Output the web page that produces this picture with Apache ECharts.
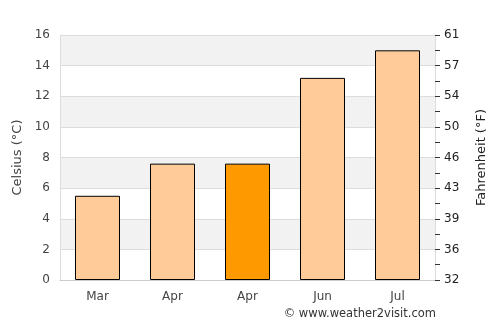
<!DOCTYPE html>
<html>
<head>
<meta charset="utf-8">
<script src="https://cdn.jsdelivr.net/npm/echarts@6/dist/echarts.min.js"></script>
<style>
  html, body { margin: 0; padding: 0; background: #fff; }
  #chart { width: 500px; height: 325px; }
</style>
</head>
<body>
<div id="chart"></div>
<script>
// 月份
var months = ['Mar', 'Apr', 'Apr', 'Jun', 'Jul'];
// 摄氏温度
var celsius = [5.5, 7.6, 7.6, 13.2, 15.0];
// 当前月（高亮）
var highlightIndex = 2;

var barColor = '#ffcc99';
var highlightColor = '#ff9900';

var myChart = echarts.init(document.getElementById('chart'));

myChart.setOption({
	animation: false,
	textStyle: { fontFamily: 'DejaVu Sans' },
	grid: {
		left: 60,
		right: 65,
		top: 35,
		bottom: 45
	},
	graphic: [
		{
			type: 'text',
			right: 64,
			bottom: 5,
			style: {
				text: '© www.weather2visit.com',
				fill: '#333',
				font: '11.5px DejaVu Sans'
			}
		}
	],
	xAxis: {
		type: 'category',
		data: months,
		axisTick: { show: false },
		axisLine: { lineStyle: { color: '#ccc' } },
		axisLabel: { color: '#444', fontSize: 12, margin: 11 }
	},
	yAxis: [
		{
			type: 'value',
			min: 0,
			max: 16,
			interval: 2,
			name: 'Celsius (°C)',
			nameLocation: 'middle',
			nameGap: 36,
			nameTextStyle: { color: '#444', fontSize: 13 },
			axisLine: { show: true, lineStyle: { color: '#ddd' } },
			axisTick: { show: false },
			axisLabel: { color: '#444', fontSize: 12, margin: 10 },
			splitLine: { lineStyle: { color: '#ddd' } },
			splitArea: { show: true, areaStyle: { color: ['#ffffff', '#f2f2f2'] } }
		},
		{
			type: 'value',
			min: 0,
			max: 16,
			interval: 1,
			position: 'right',
			name: 'Fahrenheit (°F)',
			nameLocation: 'middle',
			nameGap: 40,
			nameTextStyle: { color: '#222', fontSize: 13 },
			axisLine: { show: true, lineStyle: { color: '#ddd' } },
			axisTick: { show: true, length: 5, lineStyle: { color: '#333' } },
			axisLabel: {
				color: '#222',
				fontSize: 12,
				margin: 9,
				formatter: function (v) {
					if (v % 2 !== 0) return '';
					return Math.round(v * 9 / 5 + 32);
				}
			},
			splitLine: { show: false }
		}
	],
	series: [
		{
			type: 'bar',
			barWidth: '60%',
			data: celsius.map(function (v, i) {
				return {
					value: v,
					itemStyle: { color: i === highlightIndex ? highlightColor : barColor }
				};
			}),
			itemStyle: { borderColor: '#000', borderWidth: 1 }
		}
	]
});
</script>
</body>
</html>
